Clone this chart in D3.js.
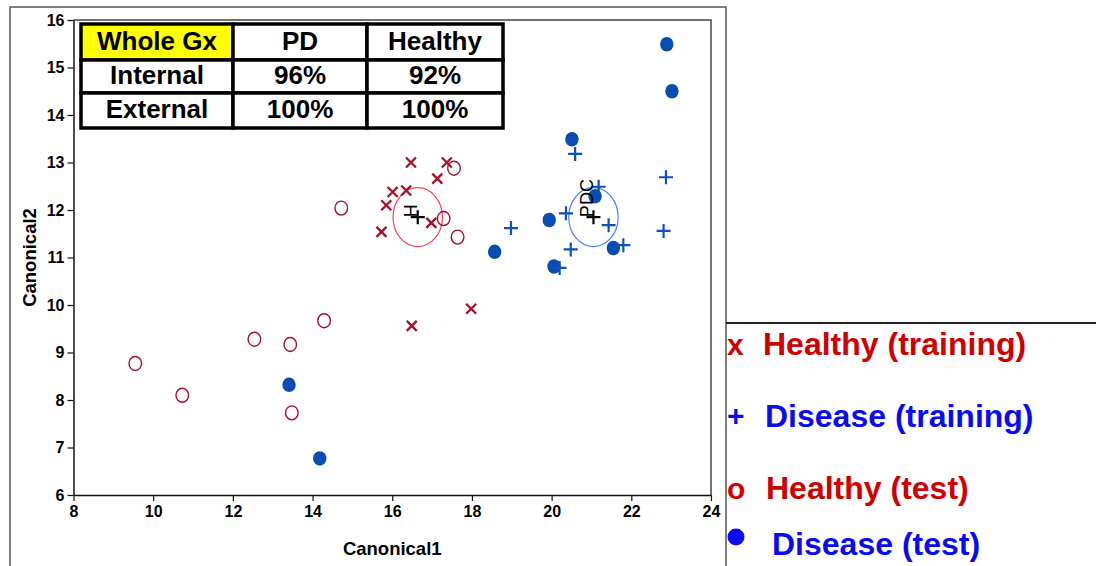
<!DOCTYPE html>
<html>
<head>
<meta charset="utf-8">
<script src="https://cdn.jsdelivr.net/npm/d3@7"></script>
<style>
  body { margin: 0; background: #fff; }
  svg { display: block; font-family: "Liberation Sans", Arial, sans-serif; }
  .tick text { font-weight: bold; font-size: 16px; fill: #000; }
</style>
</head>
<body>
<svg id="chart" width="1096" height="566"></svg>
<script>
// Data
const healthyTraining = [[16.47, 13.0], [17.37, 13.0], [17.13, 12.66], [16.01, 12.38], [16.35, 12.41],
  [15.85, 12.10], [16.98, 11.73], [15.73, 11.54], [17.98, 9.92], [16.49, 9.56]];
const diseaseTraining = [[20.59, 13.18], [21.18, 12.49], [20.36, 11.93], [21.43, 11.68], [18.98, 11.62],
  [20.48, 11.17], [21.80, 11.26], [20.20, 10.78], [22.87, 12.69], [22.81, 11.56]];
const healthyTest = [[17.55, 12.88], [17.29, 11.82], [17.64, 11.43], [14.72, 12.04], [9.55, 8.77],
  [10.73, 8.10], [12.54, 9.28], [13.44, 9.17], [14.29, 9.67], [13.48, 7.73]];
const diseaseTest = [[22.89, 15.49], [23.02, 14.50], [20.51, 13.49], [19.94, 11.79], [21.09, 12.29],
  [18.57, 11.12], [20.06, 10.81], [21.55, 11.20], [13.41, 8.32], [14.18, 6.77]];
const centroids = [
  {label: "H", x: 16.64, y: 11.85, r: 0.62, color: "#f0455e"},
  {label: "PDC", x: 21.05, y: 11.85, r: 0.62, color: "#4a82ee"}
];
const xTicks = [8, 10, 12, 14, 16, 18, 20, 22, 24];
const yTicks = [6, 7, 8, 9, 10, 11, 12, 13, 14, 15, 16];
const tableHeader = ["Whole Gx", "PD", "Healthy"];
const tableRows = [["Internal", "96%", "92%"], ["External", "100%", "100%"]];
const legendItems = [
  {symbol: "x", text: "Healthy (training)", color: "#d00000"},
  {symbol: "+", text: "Disease (training)", color: "#0a0af5"},
  {symbol: "o", text: "Healthy (test)", color: "#d00000"},
  {symbol: "dot", text: "Disease (test)", color: "#0a0af5"}
];

const svg = d3.select("#chart");
const redMark = "#a3102e";
const blueMark = "#0a4cb2";

// Scales
const x = d3.scaleLinear().domain([8, 24]).range([73.5, 711]);
const y = d3.scaleLinear().domain([6, 16]).range([495, 20]);

// Outer frame
svg.append("path")
  .attr("d", "M10,566V7H726V566")
  .attr("fill", "none").attr("stroke", "#555").attr("stroke-width", 1.5);

// Plot frame (top / right)
svg.append("path")
  .attr("d", `M${x(8)},${y(16)}H${x(24)}V${y(6)}`)
  .attr("fill", "none").attr("stroke", "#444").attr("stroke-width", 1.5);

// Axes
svg.append("g")
  .attr("transform", `translate(0,${y(6)})`)
  .call(d3.axisBottom(x).tickValues(xTicks).tickSize(6).tickSizeOuter(0).tickPadding(5));
svg.append("g")
  .attr("transform", `translate(${x(8)},0)`)
  .call(d3.axisLeft(y).tickValues(yTicks).tickSize(6).tickSizeOuter(0).tickPadding(3));
svg.selectAll(".domain").attr("stroke", "#111").attr("stroke-width", 1.5);
svg.selectAll(".tick line").attr("stroke", "#111").attr("stroke-width", 1.2);

svg.append("text")
  .attr("x", (x(8) + x(24)) / 2).attr("y", 555)
  .attr("text-anchor", "middle")
  .style("font-weight", "bold").style("font-size", "18.5px")
  .text("Canonical1");
svg.append("text")
  .attr("transform", `translate(36,${(y(6) + y(16)) / 2}) rotate(-90)`)
  .attr("text-anchor", "middle")
  .style("font-weight", "bold").style("font-size", "18.5px")
  .text("Canonical2");

// Confidence circles around group centroids
svg.selectAll(".ring")
  .data(centroids)
  .enter().append("ellipse")
  .attr("class", "ring")
  .attr("cx", d => x(d.x)).attr("cy", d => y(d.y))
  .attr("rx", d => x(d.x + d.r) - x(d.x))
  .attr("ry", d => y(d.y) - y(d.y + d.r))
  .attr("fill", "none")
  .attr("stroke", d => d.color).attr("stroke-width", 1.2);

// Healthy test: open circles
svg.selectAll(".hTest")
  .data(healthyTest)
  .enter().append("ellipse")
  .attr("class", "hTest")
  .attr("cx", d => x(d[0])).attr("cy", d => y(d[1]))
  .attr("rx", 6.3).attr("ry", 7)
  .attr("fill", "none").attr("stroke", redMark).attr("stroke-width", 1.4);

// Disease test: filled dots
svg.selectAll(".dTest")
  .data(diseaseTest)
  .enter().append("ellipse")
  .attr("class", "dTest")
  .attr("cx", d => x(d[0])).attr("cy", d => y(d[1]))
  .attr("rx", 6.7).attr("ry", 7.3)
  .attr("fill", blueMark);

// Healthy training: crosses
svg.selectAll(".hTrain")
  .data(healthyTraining)
  .enter().append("path")
  .attr("class", "hTrain")
  .attr("d", d => {
    const cx = x(d[0]), cy = y(d[1]), s = 5;
    return `M${cx - s},${cy - s}L${cx + s},${cy + s}M${cx - s},${cy + s}L${cx + s},${cy - s}`;
  })
  .attr("stroke", redMark).attr("stroke-width", 2.3);

// Disease training: plus signs
svg.selectAll(".dTrain")
  .data(diseaseTraining)
  .enter().append("path")
  .attr("class", "dTrain")
  .attr("d", d => {
    const cx = x(d[0]), cy = y(d[1]), s = 7;
    return `M${cx - s},${cy}H${cx + s}M${cx},${cy - s}V${cy + s}`;
  })
  .attr("stroke", "#0d52b6").attr("stroke-width", 2.2);

// Centroid markers and labels
svg.selectAll(".cent")
  .data(centroids)
  .enter().append("path")
  .attr("class", "cent")
  .attr("d", d => {
    const cx = x(d.x), cy = y(d.y), s = 7;
    return `M${cx - s},${cy}H${cx + s}M${cx},${cy - s}V${cy + s}`;
  })
  .attr("stroke", "#000").attr("stroke-width", 2.2);
svg.selectAll(".centLabel")
  .data(centroids)
  .enter().append("text")
  .attr("class", "centLabel")
  .attr("transform", d => `translate(${x(d.x) - 0.5},${y(d.y)}) rotate(-90)`)
  .style("font-size", "18px")
  .text(d => d.label);

// Classification table
const colX = [81, 233, 367, 503];
const rowY = [24, 60, 93, 128];
const table = svg.append("g");
const allRows = [tableHeader].concat(tableRows);
allRows.forEach((row, r) => {
  row.forEach((cell, c) => {
    table.append("rect")
      .attr("x", colX[c]).attr("y", rowY[r])
      .attr("width", colX[c + 1] - colX[c]).attr("height", rowY[r + 1] - rowY[r])
      .attr("fill", r === 0 && c === 0 ? "#ffff00" : "#fff")
      .attr("stroke", "#000").attr("stroke-width", 3.5);
    table.append("text")
      .attr("x", (colX[c] + colX[c + 1]) / 2)
      .attr("y", (rowY[r] + rowY[r + 1]) / 2 + 7.5)
      .attr("text-anchor", "middle")
      .style("font-weight", "bold").style("font-size", "26px")
      .text(cell);
  });
});

// Legend panel
svg.append("line")
  .attr("x1", 726).attr("x2", 1096).attr("y1", 323).attr("y2", 323)
  .attr("stroke", "#222").attr("stroke-width", 2);

const legendBase = [355, 427, 499, 555];
const legendTextX = [763, 765, 766, 772];
const legend = svg.append("g");
legendItems.forEach((item, i) => {
  if (item.symbol === "dot") {
    legend.append("circle")
      .attr("cx", 736).attr("cy", 537).attr("r", 8.5)
      .attr("fill", item.color);
  } else {
    legend.append("text")
      .attr("x", 727).attr("y", legendBase[i] - (item.symbol === "+" ? 1 : 0))
      .attr("fill", item.color)
      .style("font-weight", "bold").style("font-size", "30px")
      .text(item.symbol);
  }
  legend.append("text")
    .attr("x", legendTextX[i]).attr("y", legendBase[i])
    .attr("fill", item.color)
    .style("font-weight", "bold").style("font-size", "32px")
    .text(item.text);
});
</script>
</body>
</html>
